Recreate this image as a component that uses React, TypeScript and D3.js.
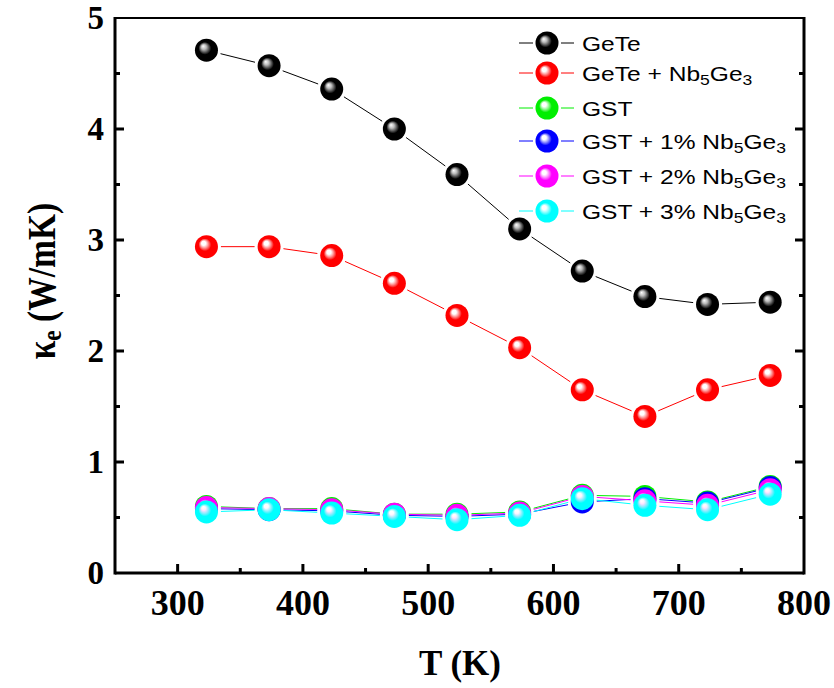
import React from "react";
import * as d3 from "d3";

const temps = [323, 373, 423, 473, 523, 573, 623, 673, 723, 773];
const geTe = [4.71, 4.57, 4.36, 4.0, 3.59, 3.1, 2.72, 2.49, 2.42, 2.44];
const geTeNb = [2.94, 2.94, 2.86, 2.61, 2.32, 2.03, 1.65, 1.41, 1.65, 1.78];
const gst = [0.6, 0.58, 0.58, 0.53, 0.53, 0.55, 0.7, 0.69, 0.64, 0.78];
const gst1 = [0.58, 0.57, 0.56, 0.52, 0.51, 0.53, 0.64, 0.67, 0.63, 0.77];
const gst2 = [0.59, 0.58, 0.57, 0.53, 0.52, 0.54, 0.69, 0.65, 0.61, 0.75];
const gst3 = [0.55, 0.57, 0.54, 0.51, 0.48, 0.52, 0.67, 0.61, 0.57, 0.71];

const seriesNames = ["GeTe", "GeTe + Nb5Ge3", "GST", "GST + 1% Nb5Ge3", "GST + 2% Nb5Ge3", "GST + 3% Nb5Ge3"];
const seriesColors = ["#000000", "#ff0000", "#00ee00", "#0000ff", "#ff00ff", "#00ffff"];
const seriesValues = [geTe, geTeNb, gst, gst1, gst2, gst3];

const xTicks = [300, 400, 500, 600, 700, 800];
const yTicks = [0, 1, 2, 3, 4, 5];

const L = 115, R = 804, T = 18, B = 573;

function Label({ name }: { name: string }) {
  const m = name.match(/^(.*)Nb5Ge3$/);
  if (!m) return <>{name}</>;
  return (
    <>
      {m[1]}Nb<tspan baselineShift="-30%" fontSize="15">5</tspan>Ge<tspan baselineShift="-30%" fontSize="15">3</tspan>
    </>
  );
}

export default function App() {
  const x = d3.scaleLinear().domain([250, 800]).range([L, R]);
  const y = d3.scaleLinear().domain([0, 5]).range([B, T]);
  const xMinor = d3.range(250, 800, 50).filter((v) => v % 100 !== 0 && v > 250);
  const yMinor = d3.range(0.5, 5, 1);
  const r = 11.5;
  const legendY = [43, 73, 108, 141, 176, 211];
  const serif = "'Liberation Serif', 'Times New Roman', serif";
  const sans = "'Liberation Sans', Arial, sans-serif";

  return (
    <svg width={834} height={688} style={{ position: "absolute", left: 0, top: 0, background: "#fff" }}>
      <defs>
        {seriesColors.map((c, i) => (
          <radialGradient key={i} id={`g${i}`} cx="50%" cy="50%" r="50%" fx="35%" fy="32%">
            <stop offset="0%" stopColor="#ffffff" />
            <stop offset={i === 0 ? "22%" : "18%"} stopColor={i === 0 ? "#bbbbbb" : "#ffffff"} stopOpacity={i === 0 ? 1 : 0.85} />
            <stop offset="55%" stopColor={c} />
            <stop offset="100%" stopColor={i === 0 ? "#000" : c} />
          </radialGradient>
        ))}
      </defs>
      {seriesValues.map((vals, si) => (
        <g key={si}>
          {vals.slice(0, -1).map((v, i) => {
            const x1 = x(temps[i]), y1 = y(v), x2 = x(temps[i + 1]), y2 = y(vals[i + 1]);
            const len = Math.hypot(x2 - x1, y2 - y1);
            const ux = (x2 - x1) / len, uy = (y2 - y1) / len;
            const g = r + 3;
            return (
              <line key={i} x1={x1 + ux * g} y1={y1 + uy * g} x2={x2 - ux * g} y2={y2 - uy * g}
                stroke={seriesColors[si]} strokeWidth={1} />
            );
          })}
          {vals.map((v, i) => (
            <circle key={i} cx={x(temps[i])} cy={y(v)} r={r} fill={`url(#g${si})`} />
          ))}
        </g>
      ))}
      <line x1={L} y1={T} x2={R} y2={T} stroke="#000" strokeWidth={2} />
      <line x1={L} y1={B} x2={R} y2={B} stroke="#000" strokeWidth={3} />
      <line x1={L} y1={T - 1} x2={L} y2={B + 1.5} stroke="#000" strokeWidth={3} />
      <line x1={R} y1={T - 1} x2={R} y2={B + 1.5} stroke="#000" strokeWidth={3} />
      {xTicks.filter((v) => v < 800).map((v) => (
        <line key={v} x1={x(v)} x2={x(v)} y1={B} y2={B - 9} stroke="#000" strokeWidth={3} />
      ))}
      {xMinor.map((v) => (
        <line key={v} x1={x(v)} x2={x(v)} y1={B} y2={B - 5} stroke="#000" strokeWidth={3} />
      ))}
      {yTicks.filter((v) => v > 0 && v < 5).map((v) => (
        <g key={v}>
          <line x1={L} x2={L + 9} y1={y(v)} y2={y(v)} stroke="#000" strokeWidth={3} />
          <line x1={R} x2={R - 9} y1={y(v)} y2={y(v)} stroke="#000" strokeWidth={3} />
        </g>
      ))}
      {yMinor.map((v) => (
        <g key={v}>
          <line x1={L} x2={L + 5} y1={y(v)} y2={y(v)} stroke="#000" strokeWidth={3} />
          <line x1={R} x2={R - 5} y1={y(v)} y2={y(v)} stroke="#000" strokeWidth={3} />
        </g>
      ))}
      {xTicks.map((v) => (
        <text key={v} x={x(v)} y={615} textAnchor="middle" fontFamily={serif} fontWeight="bold" fontSize={36}>
          {v}
        </text>
      ))}
      {yTicks.map((v) => (
        <text key={v} x={104} y={y(v) + 11} textAnchor="end" fontFamily={serif} fontWeight="bold" fontSize={33}>
          {v}
        </text>
      ))}
      <text x={460} y={675} textAnchor="middle" fontFamily={serif} fontWeight="bold" fontSize={35}>
        T (K)
      </text>
      <text transform="translate(55,281) rotate(-90) scale(0.86,1)" textAnchor="middle" fontFamily={serif} fontWeight="bold" fontSize={39}>
        κ<tspan baselineShift="-25%" fontSize={27}>e</tspan> (W/mK)
      </text>
      {seriesNames.map((n, i) => (
        <g key={n}>
          <line x1={519} x2={574} y1={legendY[i]} y2={legendY[i]} stroke={seriesColors[i]} strokeWidth={1} />
          <rect x={533} y={legendY[i] - 13} width={28} height={26} fill="#fff" />
          <circle cx={547} cy={legendY[i]} r={11.5} fill={`url(#g${i})`} />
          <text transform={`translate(582,${legendY[i] + 7.5}) scale(1.17,1)`} fontFamily={sans} fontSize={21}>
            <Label name={n} />
          </text>
        </g>
      ))}
    </svg>
  );
}
